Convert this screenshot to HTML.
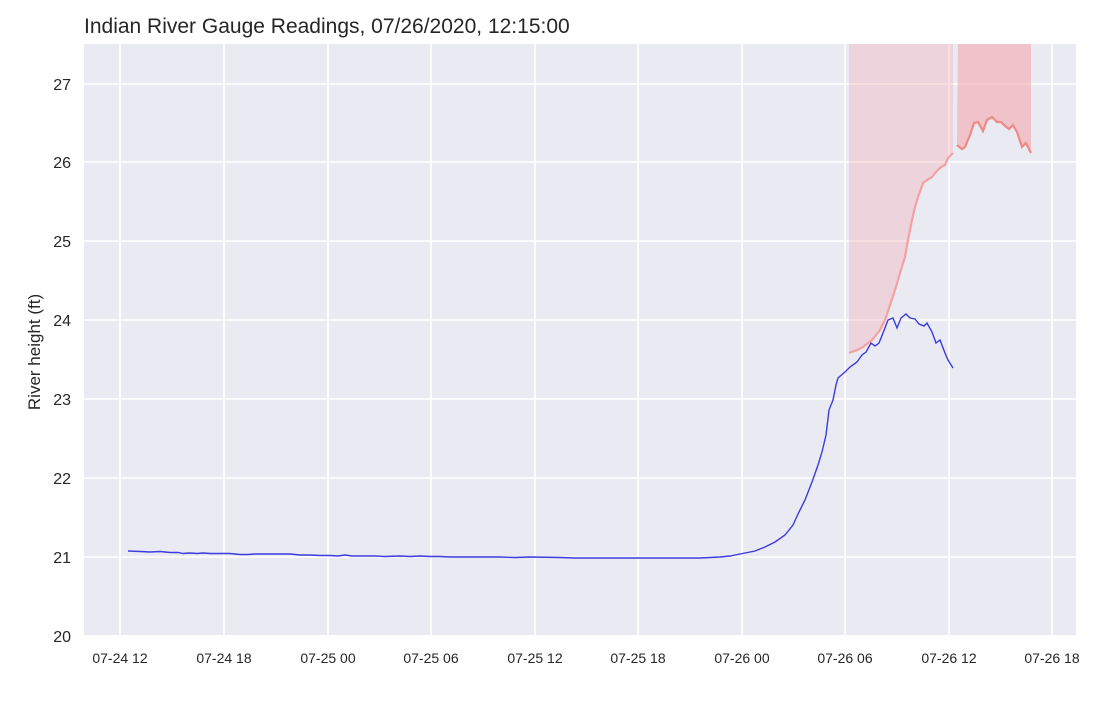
<!DOCTYPE html>
<html><head><meta charset="utf-8"><style>
body{margin:0;background:#fff;}
svg{display:block;font-family:"Liberation Sans",Arial,sans-serif;}
</style></head><body>
<svg width="1114" height="701" viewBox="0 0 1114 701">
<rect x="0" y="0" width="1114" height="701" fill="#fff"/>
<rect x="84" y="44" width="992" height="591" fill="#eaeaf2"/>
<g stroke="#fff" stroke-width="1.6">
<line x1="84" x2="1076" y1="84" y2="84"/><line x1="84" x2="1076" y1="162" y2="162"/>
<line x1="84" x2="1076" y1="241" y2="241"/><line x1="84" x2="1076" y1="320" y2="320"/>
<line x1="84" x2="1076" y1="399" y2="399"/><line x1="84" x2="1076" y1="478" y2="478"/>
<line x1="84" x2="1076" y1="557" y2="557"/>
<line y1="44" y2="635" x1="120" x2="120"/><line y1="44" y2="635" x1="224" x2="224"/>
<line y1="44" y2="635" x1="328" x2="328"/><line y1="44" y2="635" x1="431" x2="431"/>
<line y1="44" y2="635" x1="535" x2="535"/><line y1="44" y2="635" x1="638" x2="638"/>
<line y1="44" y2="635" x1="742" x2="742"/><line y1="44" y2="635" x1="845" x2="845"/>
<line y1="44" y2="635" x1="949" x2="949"/><line y1="44" y2="635" x1="1052" x2="1052"/>
</g>
<polygon fill="#f4a0a8" fill-opacity="0.3" points="849,44 953,44 953,153 948,158 945,165 941,167 936,172 932,177 927,180 923,183 918,197 915,207 912,220 908,240 905,257 900,273 895,290 890,305 885,320 880,330 872,340 863,347 857,350 849,353"/>
<polygon fill="#f4a0a8" fill-opacity="0.55" points="958,44 1031,44 1031,153 1026,143 1022,147 1017,132 1013,125 1009,129 1005,126 1001,122 997,122 992,117 987,120 983,131 978,122 974,123 970,135 965,147 962,149 957,145"/>
<polyline fill="none" stroke="#f4a0a0" stroke-width="2.2" points="849,353 857,350 863,347 872,340 880,330 885,320 890,305 895,290 900,273 905,257 908,240 912,220 915,207 918,197 923,183 927,180 932,177 936,172 941,167 945,165 948,158 953,153"/>
<polyline fill="none" stroke="#f08a86" stroke-width="2.2" points="957,145 962,149 965,147 970,135 974,123 978,122 983,131 987,120 992,117 997,122 1001,122 1005,126 1009,129 1013,125 1017,132 1022,147 1026,143 1031,153"/>
<polyline fill="none" stroke="#3b3be0" stroke-width="1.4" points="128,551 140,551.5 150,552 160,551.5 170,552.5 178,552.5 183,553.5 190,553 197,553.5 203,553 210,553.5 218,553.5 230,553.5 240,554.5 248,554.5 255,554 268,554 290,554 300,555 310,555 320,555.5 330,555.5 338,556 345,555 352,556 360,556 375,556 385,556.5 400,556 410,556.5 420,556 430,556.5 440,556.5 450,557 460,557 470,557 480,557 500,557 515,557.5 530,557 560,557.5 575,558 600,558 615,558 630,558 660,558 680,558 700,558 710,557.5 720,557 730,556 735,555 745,553 755,551 765,547 775,542 785,535 793,525 798,514 805,500 812,482 818,465 822,452 826,435 829,410 833,400 836,385 838,378 845,372 850,367 857,362 862,355 866,352 871,343 875,346 879,343 883,333 888,320 893,318 897,328 901,318 906,314 910,318 915,319 919,324 924,326 927,323 932,332 936,343 940,340 945,353 948,360 953,368"/>
<g font-size="16" fill="#262626" text-anchor="end">
<text x="71" y="90">27</text><text x="71" y="168">26</text><text x="71" y="247">25</text>
<text x="71" y="326">24</text><text x="71" y="405">23</text><text x="71" y="484">22</text>
<text x="71" y="563">21</text><text x="71" y="642">20</text>
</g>
<g font-size="14" fill="#262626" text-anchor="middle">
<text x="120" y="663">07-24 12</text><text x="224" y="663">07-24 18</text>
<text x="328" y="663">07-25 00</text><text x="431" y="663">07-25 06</text>
<text x="535" y="663">07-25 12</text><text x="638" y="663">07-25 18</text>
<text x="742" y="663">07-26 00</text><text x="845" y="663">07-26 06</text>
<text x="949" y="663">07-26 12</text><text x="1052" y="663">07-26 18</text>
</g>
<text x="40" y="352" font-size="17" fill="#262626" text-anchor="middle" transform="rotate(-90 40 352)">River height (ft)</text>
<text x="84" y="33" font-size="21" fill="#262626">Indian River Gauge Readings, 07/26/2020, 12:15:00</text>
</svg>
</body></html>
